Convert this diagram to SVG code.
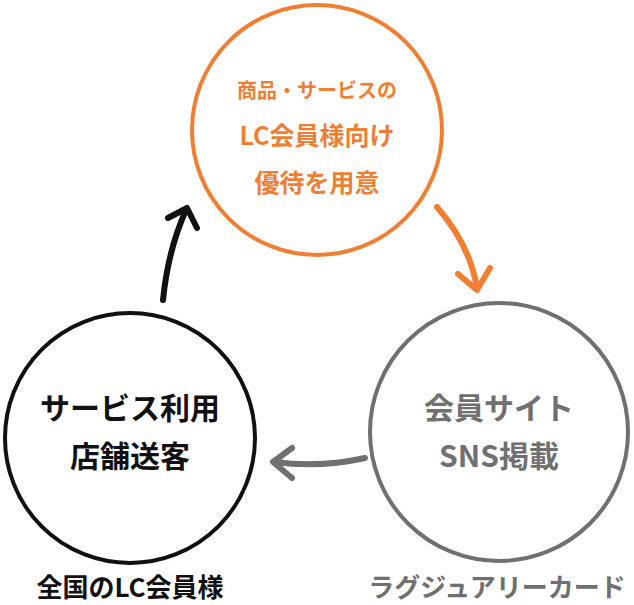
<svg xmlns="http://www.w3.org/2000/svg" width="634" height="605" viewBox="0 0 634 605">
<style>
text{font-family:"Noto Sans CJK JP","Noto Sans",sans-serif;font-weight:bold;text-anchor:middle}
.c{fill:#fff;stroke-width:4}
.a{fill:none;stroke-width:6;stroke-linecap:round;stroke-linejoin:round}
</style>
<g id="top"><circle class="c" cx="317" cy="130" r="125" stroke="#f07f34"/>
<text x="317" y="98" font-size="20" fill="#f07f34">商品・サービスの</text>
<text x="317" y="145" font-size="25" fill="#f07f34">LC会員様向け</text>
<text x="317" y="192" font-size="25" fill="#f07f34">優待を用意</text></g>
<g id="left"><circle class="c" cx="130" cy="438" r="125" stroke="#111"/>
<text x="130" y="419" font-size="30" fill="#111">サービス利用</text>
<text x="130" y="467" font-size="30" fill="#111">店舗送客</text></g>
<g id="right"><circle class="c" cx="499" cy="432" r="129" stroke="#707070"/>
<text x="499" y="419" font-size="30" fill="#707070">会員サイト</text>
<text x="499" y="467" font-size="30" fill="#707070">SNS掲載</text></g>
<g id="connectors">
<path class="a" stroke="#f07f34" d="M437 207 Q470 245 477 288 M458 274 L477 290 L490 268"/>
<path class="a" stroke="#707070" d="M365 458 Q320 468 275 462 M292 448 L273 462 L292 478"/>
<path class="a" stroke="#111" d="M163 300 Q168 250 186 210 M168 218 L187 208 L197 228"/>
</g>
<text x="130" y="597" font-size="26" fill="#111">全国のLC会員様</text>
<text x="497" y="597" font-size="26" fill="#707070">ラグジュアリーカード</text>
</svg>
